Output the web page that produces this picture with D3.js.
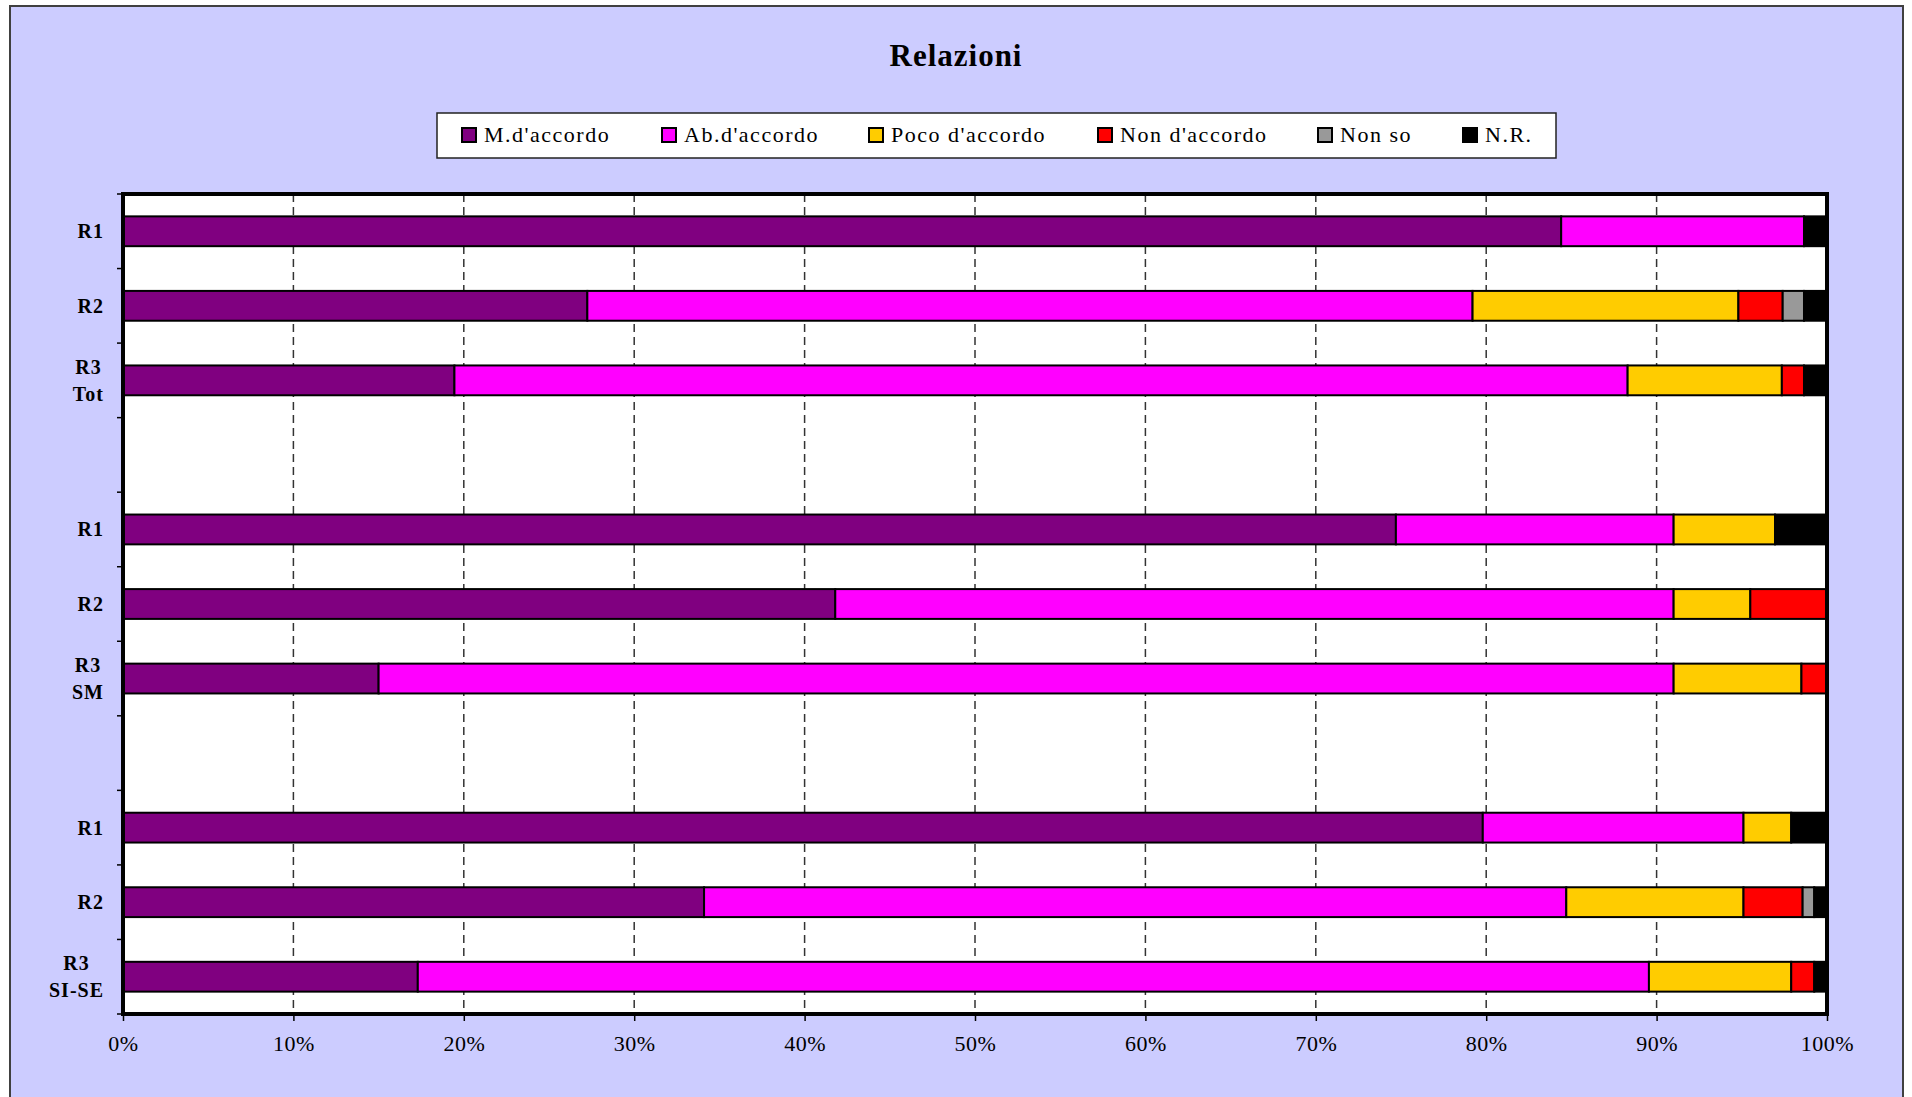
<!DOCTYPE html>
<html>
<head>
<meta charset="utf-8">
<script src="https://cdn.jsdelivr.net/npm/d3@7"></script>
<style>
  html, body { margin: 0; padding: 0; background: #ffffff; }
  svg { display: block; }
</style>
</head>
<body>
<svg id="chart" width="1912" height="1097"></svg>
<script>
// ---- DATA ----
const title = "Relazioni";
const categories = ["R1", "R2", "R3\nTot", "", "R1", "R2", "R3\nSM", "", "R1", "R2", "R3\nSI-SE"];
const seriesNames = ["M.d'accordo", "Ab.d'accordo", "Poco d'accordo", "Non d'accordo", "Non so", "N.R."];
const seriesColors = ["#800080", "#FF00FF", "#FFCC00", "#FF0000", "#999999", "#000000"];
const mAccordo   = [84.4, 27.25, 19.45, null, 74.7, 41.8, 15.0, null, 79.8, 34.1, 17.3];
const abAccordo  = [14.25, 51.95, 68.85, null, 16.3, 49.2, 76.0, null, 15.3, 50.6, 72.25];
const pocoAcc    = [0, 15.6, 9.05, null, 5.95, 4.5, 7.5, null, 2.8, 10.4, 8.35];
const nonAcc     = [0, 2.6, 1.3, null, 0, 4.5, 1.5, null, 0, 3.47, 1.35];
const nonSo      = [0, 1.25, 0, null, 0, 0, 0, null, 0, 0.68, 0];
const nr         = [1.35, 1.35, 1.35, null, 3.05, 0, 0, null, 2.1, 0.75, 0.75];
const xTicks = [0, 10, 20, 30, 40, 50, 60, 70, 80, 90, 100];

const seriesValues = [mAccordo, abAccordo, pocoAcc, nonAcc, nonSo, nr];

// ---- LAYOUT ----
const svg = d3.select("#chart");
const serif = "'Liberation Serif', 'Times New Roman', serif";

// chart area background
svg.append("rect")
  .attr("x", 10).attr("y", 6).attr("width", 1893).attr("height", 1100)
  .attr("fill", "#CCCCFF").attr("stroke", "#404040").attr("stroke-width", 2);

const plot = { left: 123, right: 1827, top: 194, bottom: 1014 };

const x = d3.scaleLinear().domain([0, 100]).range([plot.left, plot.right]);
const y = d3.scaleBand()
  .domain(categories.map((d, i) => i))
  .range([plot.top, plot.bottom])
  .paddingInner(0.6).paddingOuter(0.3);

// title
svg.append("text")
  .attr("x", 956).attr("y", 66)
  .attr("text-anchor", "middle")
  .attr("font-family", serif).attr("font-weight", "bold")
  .attr("font-size", 31).attr("letter-spacing", 1)
  .attr("fill", "#000")
  .text(title);

// legend
const legendX = [462, 662, 869, 1098, 1318, 1463];
const lg = svg.append("g");
lg.append("rect")
  .attr("x", 437).attr("y", 113).attr("width", 1119).attr("height", 45)
  .attr("fill", "#ffffff").attr("stroke", "#222").attr("stroke-width", 1.5);
seriesNames.forEach((name, i) => {
  lg.append("rect")
    .attr("x", legendX[i]).attr("y", 128).attr("width", 14).attr("height", 14)
    .attr("fill", seriesColors[i]).attr("stroke", "#000").attr("stroke-width", 2);
  lg.append("text")
    .attr("x", legendX[i] + 22).attr("y", 142)
    .attr("font-family", serif).attr("font-size", 22).attr("letter-spacing", 1.5)
    .attr("fill", "#000")
    .text(name);
});

// plot background
svg.append("rect")
  .attr("x", plot.left).attr("y", plot.top)
  .attr("width", plot.right - plot.left).attr("height", plot.bottom - plot.top)
  .attr("fill", "#ffffff");

// gridlines
svg.append("g").selectAll("line")
  .data(xTicks.filter(t => t > 0 && t < 100))
  .join("line")
  .attr("x1", d => x(d)).attr("x2", d => x(d))
  .attr("y1", plot.top).attr("y2", plot.bottom)
  .attr("stroke", "#333").attr("stroke-width", 1.5)
  .attr("stroke-dasharray", "8,5");

// stacked bars
const stackData = categories.map((c, i) => {
  const o = { idx: i };
  seriesNames.forEach((s, k) => { o[s] = seriesValues[k][i] || 0; });
  return o;
});
const stack = d3.stack().keys(seriesNames)(stackData);

const barsG = svg.append("g");
stack.forEach((layer, k) => {
  barsG.append("g")
    .attr("fill", seriesColors[k])
    .selectAll("rect")
    .data(layer.filter(d => d[1] - d[0] > 0))
    .join("rect")
    .attr("x", d => x(d[0]))
    .attr("y", d => y(d.data.idx))
    .attr("width", d => x(d[1]) - x(d[0]))
    .attr("height", y.bandwidth())
    .attr("stroke", "#000").attr("stroke-width", 2);
});

// plot border
svg.append("rect")
  .attr("x", plot.left).attr("y", plot.top)
  .attr("width", plot.right - plot.left).attr("height", plot.bottom - plot.top)
  .attr("fill", "none").attr("stroke", "#000").attr("stroke-width", 4);

// y ticks at band boundaries
const boundaries = d3.range(categories.length + 1).map(i => plot.top + i * y.step());
svg.append("g").selectAll("line")
  .data(boundaries)
  .join("line")
  .attr("x1", plot.left - 6).attr("x2", plot.left)
  .attr("y1", d => d).attr("y2", d => d)
  .attr("stroke", "#000").attr("stroke-width", 1.5);

// x axis ticks and labels
const xAxis = d3.axisBottom(x)
  .tickValues(xTicks)
  .tickFormat(d => d + "%")
  .tickSize(7).tickPadding(14);
const xg = svg.append("g")
  .attr("transform", `translate(0,${plot.bottom})`)
  .call(xAxis);
xg.select(".domain").remove();
xg.selectAll(".tick line").attr("stroke", "#000").attr("stroke-width", 1.5);
xg.selectAll(".tick text")
  .attr("font-family", serif).attr("font-size", 22).attr("letter-spacing", 0.5)
  .attr("fill", "#000");

// y labels
const labelRight = 104;
const yl = svg.append("g");
categories.forEach((c, i) => {
  if (!c) return;
  const lines = c.split("\n");
  const cy = y(i) + y.bandwidth() / 2;
  const t = yl.append("text")
    .attr("font-family", serif).attr("font-weight", "bold")
    .attr("font-size", 20).attr("letter-spacing", 1)
    .attr("text-anchor", "middle").attr("fill", "#000");
  const lh = 27;
  const firstBase = cy + 7 - (lines.length - 1) * lh / 2;
  const spans = lines.map((l, j) => t.append("tspan").attr("y", firstBase + j * lh).text(l));
  const maxW = d3.max(spans, s => s.node().getComputedTextLength());
  spans.forEach(s => s.attr("x", labelRight - maxW / 2));
});
</script>
</body>
</html>
